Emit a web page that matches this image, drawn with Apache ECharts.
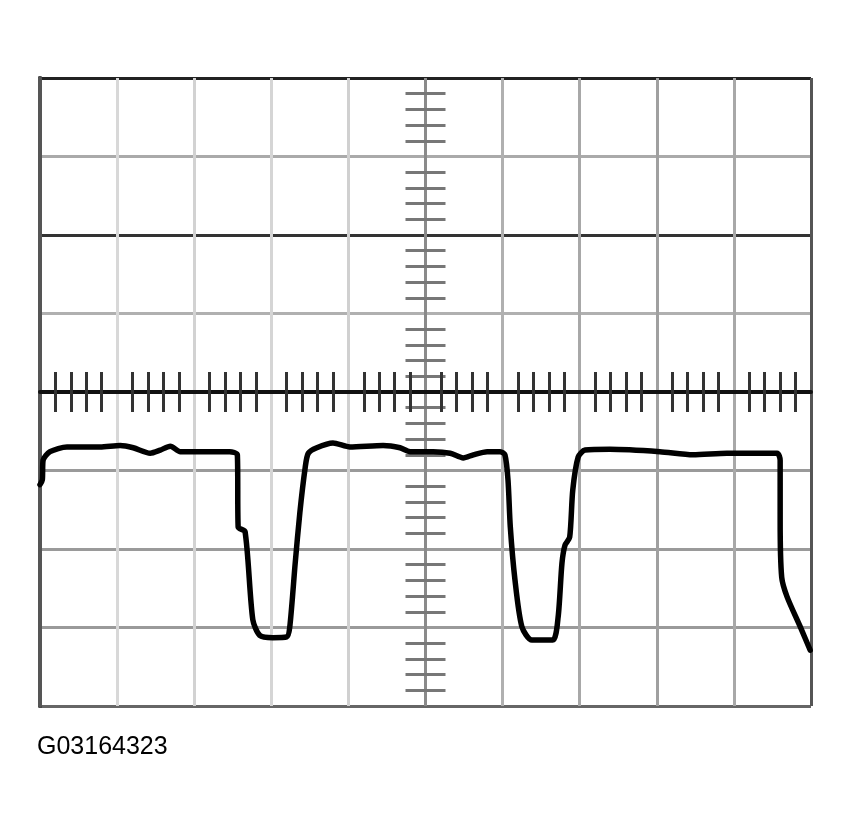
<!DOCTYPE html>
<html>
<head>
<meta charset="utf-8">
<script src="https://cdn.jsdelivr.net/npm/echarts@6/dist/echarts.min.js"></script>
<style>
  html, body { margin: 0; padding: 0; background: #fff; }
  #chart { width: 852px; height: 830px; }
</style>
</head>
<body>
<div id="chart"></div>
<script>
// 示波器波形 - 单位: 格 (x 0..10, y -4..4)
var caption = "G03164323"

// 波形采样点 [x格, y格]
var trace = [
    [0.00, -1.18], [0.03, -1.12], [0.04, -0.87], [0.13, -0.76], [0.35, -0.70],
    [0.78, -0.70], [1.04, -0.68], [1.21, -0.71], [1.43, -0.78], [1.56, -0.74],
    [1.69, -0.69], [1.82, -0.76], [2.08, -0.76], [2.46, -0.76], [2.56, -0.80],
    [2.57, -1.72], [2.66, -1.78], [2.76, -2.90], [2.85, -3.10], [3.02, -3.13],
    [3.20, -3.12], [3.24, -2.99], [3.31, -2.18], [3.37, -1.54], [3.44, -0.96],
    [3.48, -0.78], [3.59, -0.71], [3.80, -0.65], [4.02, -0.70], [4.45, -0.68],
    [4.67, -0.71], [4.80, -0.76], [5.10, -0.76], [5.32, -0.78], [5.49, -0.84],
    [5.62, -0.80], [5.80, -0.76], [5.97, -0.76], [6.03, -0.80], [6.07, -1.12],
    [6.10, -1.72], [6.16, -2.39], [6.25, -2.99], [6.38, -3.16], [6.65, -3.16],
    [6.72, -2.87], [6.77, -2.18], [6.81, -1.95], [6.87, -1.85], [6.91, -1.25],
    [6.98, -0.83], [7.07, -0.74], [7.39, -0.73], [8.04, -0.76], [8.47, -0.80],
    [8.91, -0.78], [9.56, -0.78], [9.60, -0.87], [9.60, -1.63], [9.62, -2.36],
    [9.69, -2.61], [9.86, -2.99], [9.99, -3.29]
]

// 网格线颜色 (竖线从左到右, 横线从下到上)
var vGridColors = ['#000', '#d8d8d8', '#d2d2d2', '#d5d5d5', '#d0d0d0', '#8a8a8a',
    '#b0b0b0', '#a8a8a8', '#a0a0a0', '#a8a8a8', '#555']
var hGridColors = ['#666', '#9a9a9a', '#9a9a9a', '#9a9a9a', '#333', '#b0b0b0',
    '#333', '#aaaaaa', '#222']

var gridLeft = 40, gridTop = 78, gridWidth = 771, gridHeight = 628

var chart = echarts.init(document.getElementById('chart'))

function borderAxis(position, color) {
    return {
        type: 'value', position: position, min: 0, max: 10,
        axisLine: { show: true, lineStyle: { color: color, width: 4 } },
        axisTick: { show: false }, axisLabel: { show: false }, splitLine: { show: false }
    }
}

// 中心轴上的小刻度
function centerAxis(position, min, max, offset, color) {
    return {
        type: 'value', position: position, min: min, max: max, interval: 1, offset: offset,
        axisLine: { show: false },
        axisTick: { show: false },
        axisLabel: { show: false },
        splitLine: { show: false },
        minorTick: { show: true, splitNumber: 5, length: 20, lineStyle: { color: color, width: 3 } }
    }
}

var option = {
    animation: false,
    backgroundColor: '#fff',
    title: {
        text: caption,
        left: 37, top: 735, padding: 0,
        textStyle: { fontFamily: 'Liberation Sans', fontSize: 25, fontWeight: 'normal', color: '#000' }
    },
    grid: { left: gridLeft, top: gridTop, width: gridWidth, height: gridHeight },
    xAxis: [
        {
            type: 'value', position: 'bottom', min: 0, max: 10, interval: 1,
            axisLine: { show: true, lineStyle: { color: '#5a5a5a', width: 4 } },
            axisTick: { show: false }, axisLabel: { show: false },
            splitLine: { show: true, lineStyle: { color: vGridColors, width: 3 } }
        },
        borderAxis('top', '#111'),
        centerAxis('bottom', 0, 10, -gridHeight / 2, '#333'),
        centerAxis('top', 0, 10, -gridHeight / 2, '#333')
    ],
    yAxis: [
        {
            type: 'value', position: 'left', min: -4, max: 4, interval: 1,
            axisLine: { show: true, lineStyle: { color: '#000', width: 4 } },
            axisTick: { show: false }, axisLabel: { show: false },
            splitLine: { show: true, lineStyle: { color: hGridColors, width: 3 } }
        },
        {
            type: 'value', position: 'right', min: -4, max: 4,
            axisLine: { show: true, lineStyle: { color: '#555', width: 4 } },
            axisTick: { show: false }, axisLabel: { show: false }, splitLine: { show: false }
        },
        centerAxis('left', -4, 4, -gridWidth / 2, '#777'),
        centerAxis('right', -4, 4, -gridWidth / 2, '#777')
    ],
    series: [
        {
            type: 'line',
            xAxisIndex: 0,
            yAxisIndex: 0,
            data: trace,
            showSymbol: false,
            smooth: 0.25,
            lineStyle: { color: '#000', width: 5.5, join: 'round', cap: 'round' },
            z: 5
        }
    ]
}

chart.setOption(option)
</script>
</body>
</html>
